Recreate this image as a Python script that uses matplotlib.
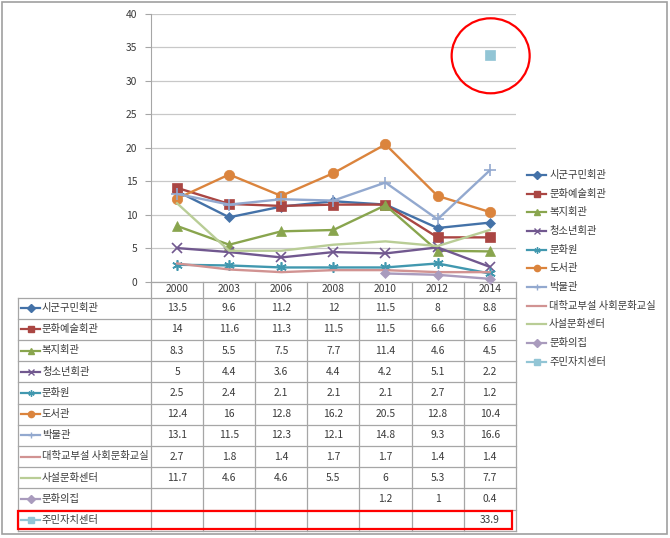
import numpy as np
import matplotlib
matplotlib.use("Agg")
import matplotlib.pyplot as plt
from matplotlib.lines import Line2D
from matplotlib.patches import Ellipse, Rectangle

plt.rcParams['font.family'] = ['Noto Sans CJK KR', 'DejaVu Sans']

years = ['2000', '2003', '2006', '2008', '2010', '2012', '2014']
names = ['시군구민회관', '문화예술회관', '복지회관', '청소년회관', '문화원', '도서관', '박물관',
         '대학교부설 사회문화교실', '사설문화센터', '문화의집', '주민자치센터']
nan = np.nan
s1 = [13.5, 9.6, 11.2, 12, 11.5, 8, 8.8]
s2 = [14, 11.6, 11.3, 11.5, 11.5, 6.6, 6.6]
s3 = [8.3, 5.5, 7.5, 7.7, 11.4, 4.6, 4.5]
s4 = [5, 4.4, 3.6, 4.4, 4.2, 5.1, 2.2]
s5 = [2.5, 2.4, 2.1, 2.1, 2.1, 2.7, 1.2]
s6 = [12.4, 16, 12.8, 16.2, 20.5, 12.8, 10.4]
s7 = [13.1, 11.5, 12.3, 12.1, 14.8, 9.3, 16.6]
s8 = [2.7, 1.8, 1.4, 1.7, 1.7, 1.4, 1.4]
s9 = [11.7, 4.6, 4.6, 5.5, 6, 5.3, 7.7]
s10 = [nan, nan, nan, nan, 1.2, 1, 0.4]
s11 = [nan, nan, nan, nan, nan, nan, 33.9]
series = [s1, s2, s3, s4, s5, s6, s7, s8, s9, s10, s11]
yticks = [0, 5, 10, 15, 20, 25, 30, 35, 40]

colors = ['#4472A8', '#AA4643', '#89A54E', '#71588F', '#4198AF', '#DB843D', '#93A9CF',
          '#D19392', '#B9CD96', '#A99BBD', '#92C5D5']
markers = ['D', 's', '^', 'x', (6, 2, 0), 'o', '+', None, None, 'D', 's']
msizes = [5.5, 6.5, 7, 7, 7.5, 7.5, 8.5, 0, 0, 5.5, 6.5]

W, H = 670, 538
fs = 7.4
fig = plt.figure(figsize=(W / 100, H / 100), dpi=100)
bg = fig.add_axes([0, 0, 1, 1], zorder=0)
bg.set_xlim(0, W)
bg.set_ylim(H, 0)
bg.axis('off')

# layout (pixels)
ax_l, ax_r, ax_t, ax_b = 151, 515.7, 14, 281.5
tab_l = 18
hdr_b = 297.5
row_h = 21.2
ncol = len(years)
colw = (ax_r - ax_l) / ncol
gray = '#A6A6A6'
txtc = '#3A3A3A'

# outer frame
bg.add_patch(Rectangle((2, 2), W - 5, H - 6, fill=False, ec='#A0A0A0', lw=1.2))

ax = fig.add_axes([ax_l / W, (H - ax_b) / H, (ax_r - ax_l) / W, (ax_b - ax_t) / H], zorder=2)
ax.set_facecolor('none')
x = np.arange(ncol)
for s, c, m, ms in zip(series, colors, markers, msizes):
    ax.plot(x, s, color=c, lw=1.7, marker=m, ms=ms, mew=1.2 if m in ('x', '+', (6, 2, 0)) else 0.5,
            mec=c, mfc=c, clip_on=False, zorder=3)
ax.set_xlim(-0.5, ncol - 0.5)
ax.set_ylim(0, 40)
ax.set_yticks(yticks)
ax.set_xticks([])
ax.yaxis.grid(True, color='#C8C8C8', lw=0.9)
ax.set_axisbelow(True)
for sp in ['top', 'right', 'bottom']:
    ax.spines[sp].set_visible(False)
ax.spines['left'].set_color(gray)
ax.tick_params(axis='y', length=4, color=gray, labelsize=fs, labelcolor=txtc, pad=6)

# data table
nrow = len(names)
tab_b = hdr_b + nrow * row_h
bg.plot([ax_l, ax_r], [ax_b, ax_b], color=gray, lw=0.9)
for j in range(ncol + 1):
    xx = ax_l + j * colw
    bg.plot([xx, xx], [ax_b, tab_b], color=gray, lw=0.9)
bg.plot([tab_l, tab_l], [hdr_b, tab_b], color=gray, lw=0.9)
for i in range(nrow + 1):
    yy = hdr_b + i * row_h
    bg.plot([tab_l, ax_r], [yy, yy], color=gray, lw=0.9)
for j, yr in enumerate(years):
    bg.text(ax_l + (j + 0.5) * colw, (ax_b + hdr_b) / 2, yr, ha='center', va='center', fontsize=fs, color=txtc)
for i, (nm, s, c, m) in enumerate(zip(names, series, colors, markers)):
    yc = hdr_b + (i + 0.5) * row_h
    bg.add_line(Line2D([21, 30.5, 40], [yc, yc, yc], color=c, lw=1.6, marker=m, markevery=[1],
                       ms=4.5, mew=1, mec=c, mfc=c))
    bg.text(42, yc, nm, ha='left', va='center', fontsize=fs, color=txtc)
    for j, v in enumerate(s):
        if not np.isnan(v):
            bg.text(ax_l + (j + 0.5) * colw, yc, f'{v:g}', ha='center', va='center', fontsize=fs, color=txtc)

# legend
leg_y0, leg_dy = 175, 18.67
for i, (nm, c, m) in enumerate(zip(names, colors, markers)):
    yc = leg_y0 + i * leg_dy
    bg.add_line(Line2D([527, 536.5, 546], [yc, yc, yc], color=c, lw=1.6, marker=m, markevery=[1],
                       ms=4.5, mew=1, mec=c, mfc=c))
    bg.text(549, yc, nm, ha='left', va='center', fontsize=fs, color=txtc)

# highlight annotations
px = ax_l + (ncol - 0.5) * colw
py = ax_b - s11[-1] / 40 * (ax_b - ax_t)
fig.add_artist(Ellipse(((px + 1) / W, (H - py - 1) / H), 78 / W, 75 / H, fill=False, ec='#FF0000', lw=1.6,
                       transform=fig.transFigure, zorder=5))
bg.add_patch(Rectangle((17.5, tab_b - row_h + 1), 512 - 17.5, row_h - 2.5, fill=False, ec='#FF0000', lw=1.6,
                       zorder=5))

fig.savefig('out.png', dpi=100)
